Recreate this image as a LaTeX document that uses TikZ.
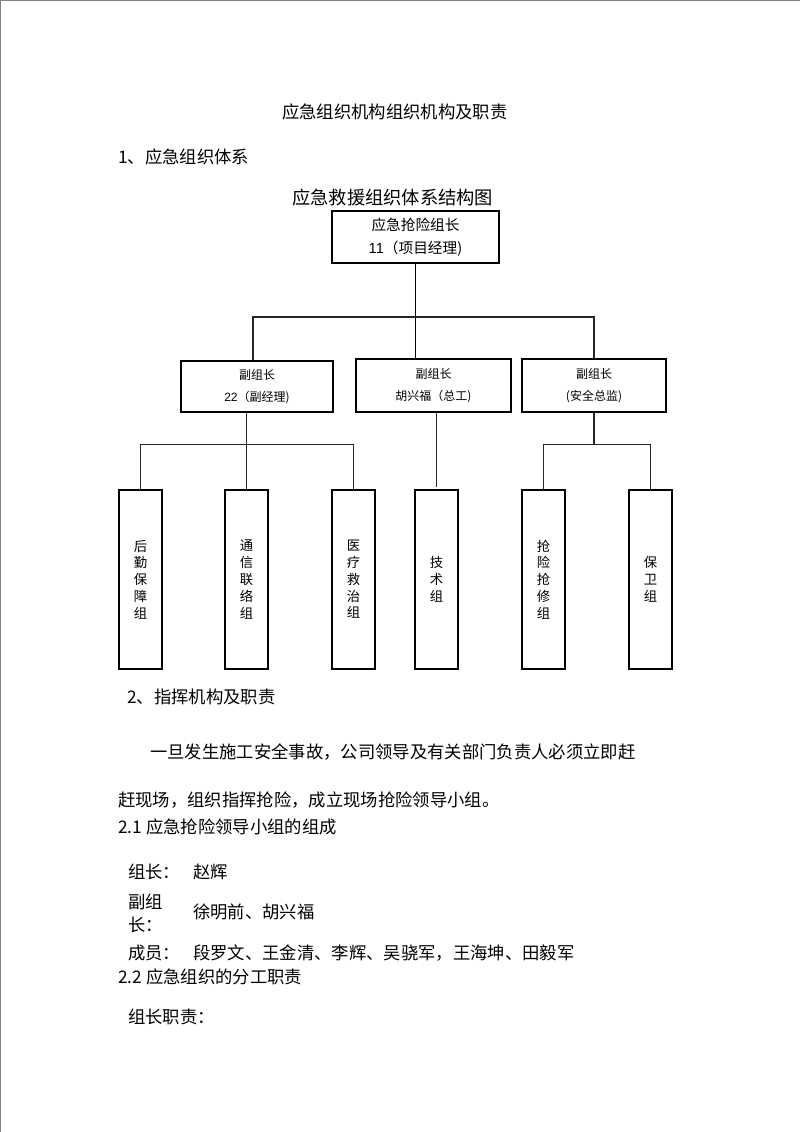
\documentclass[tikz,border=0pt]{standalone}
\usepackage{fontspec}
\setmainfont{Noto Sans CJK SC}
\newfontfamily\arial{Liberation Sans}
\begin{document}
\begin{tikzpicture}[x=0.75pt,y=-0.75pt,
  txt/.style={anchor=west,inner sep=0pt,font=\fontsize{13pt}{15pt}\selectfont},
  topbox/.style={draw,line width=1.4pt,inner sep=0pt,minimum width=125.25pt,minimum height=39pt,align=center,font=\fontsize{11pt}{17pt}\selectfont},
  depbox/.style={draw,line width=1.1pt,inner sep=0pt,align=center,font=\fontsize{9pt}{17pt}\selectfont},
  grpbox/.style={draw,line width=1.1pt,inner sep=0pt,minimum width=32.25pt,minimum height=134.25pt,align=center,font=\fontsize{10pt}{12.6pt}\selectfont},
  link/.style={line width=0.9pt,draw=black!85}]
\path[use as bounding box] (0,0) rectangle (800,1132);
\draw[gray,line width=1.2pt] (0.5,1132) -- (0.5,0.5) -- (800,0.5);

% headings
\node[txt] (t0) at (282,112) {应急组织机构组织机构及职责};
\node[txt] (t1) at (118,157) {1、应急组织体系};
\node[txt,font=\fontsize{13.7pt}{15pt}\selectfont] (t2) at (292,198) {应急救援组织体系结构图};

% chart
\node[topbox] (top) at (415.5,237) {应急抢险组长\\{\arial 11}（项目经理)};
\node[depbox,minimum width=114pt,minimum height=38.25pt] (d1) at (257,386.5) {副组长\\{\arial 22}（副经理)};
\node[depbox,minimum width=116.25pt,minimum height=39.75pt] (d2) at (433.5,385.5) {副组长\\胡兴福（总工)};
\node[depbox,minimum width=108pt,minimum height=39.75pt] (d3) at (594,385.5) {副组长\\(安全总监)};

\node[grpbox] (g1) at (140.5,579.5) {后\\勤\\保\\障\\组};
\node[grpbox] (g2) at (246.5,579.5) {通\\信\\联\\络\\组};
\node[grpbox] (g3) at (353.5,579.5) {医\\疗\\救\\治\\组};
\node[grpbox] (g4) at (436.5,579.5) {技\\术\\组};
\node[grpbox] (g5) at (543.5,579.5) {抢\\险\\抢\\修\\组};
\node[grpbox] (g6) at (650.5,579.5) {保\\卫\\组};

\coordinate (bar1) at (0,317);
\coordinate (bar2) at (0,444.5);
\draw[link,line width=1.2pt,draw=black] (top.south) -- (top.south |- d2.north);
\draw[link] (d1.north -| 253,0) |- (bar1 -| d3.north) -- (d3.north);
\draw[link] (g2.north |- d1.south) -- (g2.north);
\draw[link] (g1.north) |- (bar2 -| g3.north) -- (g3.north);
\draw[link] (g4.north |- d2.south) -- ([yshift=2pt]g4.north);
\draw[link] (d3.south) -- (d3.south |- bar2);
\draw[link] (g5.north) |- (bar2 -| g6.north) -- (g6.north);

% text below
\node[txt] (s2) at (127,697) {2、指挥机构及职责};
\node[txt] (p1) at (150,752) {一旦发生施工安全事故，公司领导及有关部门负责人必须立即赶};
\node[txt] (p2) at (118,800) {赶现场，组织指挥抢险，成立现场抢险领导小组。};
\node[txt] (s21) at (118,827) {2.1 应急抢险领导小组的组成};
\node[txt] (l1) at (128,872) {组长：};
\node[txt] (v1) at (193,872) {赵辉};
\node[txt] (l2a) at (128,902) {副组};
\node[txt] (l2b) at (128,925) {长：};
\node[txt] (v2) at (193,912) {徐明前、胡兴福};
\node[txt] (l3) at (128,953) {成员：};
\node[txt] (v3) at (193,953) {段罗文、王金清、李辉、吴骁军，王海坤、田毅军};
\node[txt] (s22) at (118,977) {2.2 应急组织的分工职责};
\node[txt] (l4) at (128,1017) {组长职责：};
\end{tikzpicture}
\end{document}
